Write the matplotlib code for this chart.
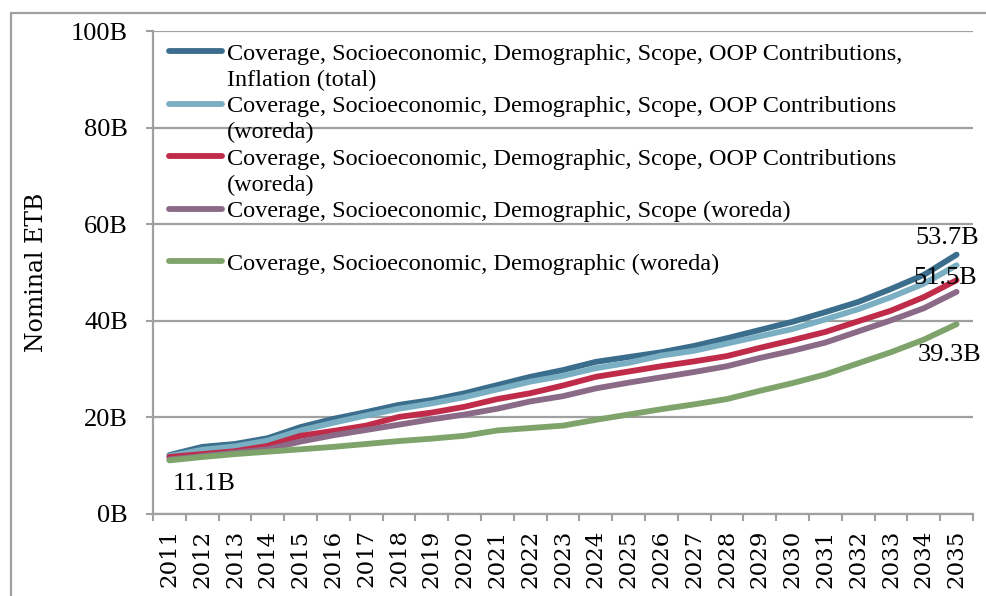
import matplotlib
matplotlib.use("Agg")
import matplotlib.pyplot as plt
from matplotlib.patches import Rectangle
from matplotlib.lines import Line2D
import numpy as np

years = [str(y) for y in range(2011, 2036)]

total = [12.2, 13.9, 14.5, 15.7, 18.0, 19.7, 21.1, 22.6, 23.6, 25.0, 26.7, 28.4, 29.8,
         31.5, 32.5, 33.5, 34.8, 36.4, 38.1, 39.8, 41.8, 43.9, 46.6, 49.5, 53.7]
oop_a = [12.0, 13.3, 14.0, 15.2, 17.3, 18.9, 20.4, 21.8, 22.9, 24.2, 25.8, 27.4, 28.6,
         30.2, 31.3, 32.8, 33.8, 35.3, 36.8, 38.3, 40.3, 42.4, 44.9, 47.7, 51.5]
oop_b = [11.8, 12.4, 13.0, 14.1, 16.2, 17.2, 18.3, 20.1, 21.0, 22.2, 23.8, 25.0, 26.6,
         28.4, 29.5, 30.6, 31.6, 32.7, 34.4, 36.0, 37.7, 39.9, 42.1, 44.9, 48.4]
scope = [11.3, 12.0, 12.7, 13.4, 15.0, 16.3, 17.4, 18.5, 19.6, 20.6, 21.8, 23.3, 24.4,
         26.0, 27.2, 28.3, 29.4, 30.6, 32.3, 33.8, 35.5, 37.8, 40.1, 42.6, 46.0]
demo = [11.1, 11.8, 12.4, 12.9, 13.4, 13.9, 14.5, 15.1, 15.6, 16.2, 17.3, 17.8, 18.3,
        19.5, 20.6, 21.7, 22.7, 23.8, 25.5, 27.1, 28.9, 31.2, 33.5, 36.1, 39.3]

series_labels = [
    ["Coverage, Socioeconomic, Demographic, Scope, OOP Contributions,", "Inflation (total)"],
    ["Coverage, Socioeconomic, Demographic, Scope, OOP Contributions", "(woreda)"],
    ["Coverage, Socioeconomic, Demographic, Scope, OOP Contributions", "(woreda)"],
    ["Coverage, Socioeconomic, Demographic, Scope (woreda)", ""],
    ["Coverage, Socioeconomic, Demographic (woreda)"],
]
colors = ["#3b6e8c", "#7aaec2", "#bf2b48", "#8b6a88", "#7fa46b"]
yticks = [0, 20, 40, 60, 80, 100]
ytick_labels = ["0B", "20B", "40B", "60B", "80B", "100B"]

W, H = 987, 596
fig = plt.figure(figsize=(W / 100, H / 100), dpi=100)
ax = fig.add_axes([153 / W, 1 - 514 / H, 820 / W, 483 / H])

grid_c = "#a0a0a0"
x = np.arange(len(years))
data = [total, oop_a, oop_b, scope, demo]
handles = []
for vals, c in zip(data, colors):
    ln, = ax.plot(x, vals, color=c, lw=4.2, solid_capstyle="round", zorder=3)
    handles.append(ln)

ax.set_xlim(-0.5, len(years) - 0.5)
ax.set_ylim(0, 100)
ax.set_yticks(yticks)
ax.set_yticklabels(ytick_labels, fontfamily="Liberation Serif", fontsize=19)
ax.set_xticks(x)
ax.set_xticklabels(years, rotation=90, fontfamily="DejaVu Serif", fontsize=16.5)
ax.set_xticks(np.arange(-0.5, len(years), 1.0), minor=True)
ax.tick_params(axis="x", which="major", length=0, pad=11)
ax.tick_params(axis="x", which="minor", length=5, width=1.5, color=grid_c, direction="out")
ax.tick_params(axis="y", which="major", length=5, width=1.5, color=grid_c, direction="out", pad=13)
for s in ["top", "right"]:
    ax.spines[s].set_visible(False)
for s in ["left", "bottom"]:
    ax.spines[s].set_color(grid_c)
    ax.spines[s].set_linewidth(1.6)
ax.yaxis.grid(True, color=grid_c, lw=1.6, zorder=0)
ax.set_axisbelow(True)

ax.set_ylabel("Nominal ETB", fontfamily="DejaVu Serif", fontsize=17)
ax.yaxis.set_label_coords(-0.128, 0.5)

# data labels
lbl_font = dict(fontfamily="Liberation Serif", fontsize=19, ha="center", va="center")
ax.annotate(f"{total[-1]:.1f}B", xy=(x[-1], total[-1]), xytext=(-7, 12),
            textcoords="offset points", **lbl_font)
ax.annotate(f"{oop_a[-1]:.1f}B", xy=(x[-1], oop_a[-1]), xytext=(-8, -9),
            textcoords="offset points", **lbl_font)
ax.annotate(f"{demo[-1]:.1f}B", xy=(x[-1], demo[-1]), xytext=(-5, -22),
            textcoords="offset points", **lbl_font)
ax.annotate(f"{demo[0]:.1f}B", xy=(x[0], demo[0]), xytext=(25, -17),
            textcoords="offset points", **lbl_font)

# legend: one row per text line
blank = Line2D([], [], color="none")
leg_h, leg_l = [], []
for h, lab in zip(handles, series_labels):
    leg_h.append(h)
    leg_l.append(lab[0])
    for extra in lab[1:]:
        leg_h.append(blank)
        leg_l.append(extra)
leg = fig.legend(leg_h, leg_l, loc="upper left", bbox_to_anchor=(169 / W, 1 - 42.5 / H),
                 frameon=False, borderpad=0, borderaxespad=0, handlelength=2.2,
                 handletextpad=0.17, labelspacing=0.175,
                 prop=dict(family="Liberation Serif", size=17.5))
for lh in leg.legend_handles:
    lh.set_linewidth(4.2)
    lh.set_solid_capstyle("round")

# outer chart border
fig.add_artist(Rectangle((11 / W, -0.1), 1.2, 1.1 - 13 / H, transform=fig.transFigure,
                         fill=False, edgecolor=grid_c, lw=1.6))

fig.savefig("out.png", dpi=100)
